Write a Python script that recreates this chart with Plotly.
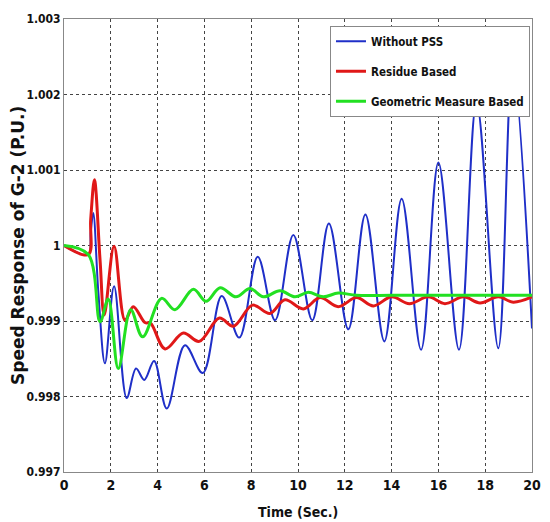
import plotly.graph_objects as go

# ---- data ----
t_without = [0, 1.04, 1.14, 1.25, 1.47, 1.75, 2.14, 2.68, 3.08, 3.43, 3.85, 4.39, 5.17, 5.93,
             6.74, 7.49, 8.28, 9.02, 9.80, 10.61, 11.32, 12.15, 12.88, 13.69, 14.43, 15.26,
             16.00, 16.88, 17.63, 18.56, 19.17, 20.0]
v_without = [1.0, 0.99988, 1.00017, 1.00043, 0.99937, 0.99844, 0.99946, 0.99798, 0.99837,
             0.99822, 0.99847, 0.99784, 0.99868, 0.99831, 0.99933, 0.99878, 0.99985, 0.99901,
             1.00014, 0.99901, 1.00029, 0.99889, 1.00041, 0.99873, 1.00062, 0.99862, 1.00110,
             0.99862, 1.00190, 0.99864, 1.00240, 0.99890]

t_residue = [0, 1.04, 1.14, 1.30, 1.54, 1.72, 2.14, 2.61, 2.96, 3.46, 3.70, 4.32, 5.10, 5.78,
             6.64, 7.24, 8.06, 8.80, 9.44, 10.23, 10.94, 11.72, 12.50, 13.22, 14.00, 14.76,
             15.57, 16.28, 17.07, 17.78, 18.56, 19.20, 20.0]
v_residue = [1.0, 0.99988, 1.00034, 1.00087, 0.99981, 0.99908, 0.99999, 0.99901, 0.99919,
             0.99898, 0.99897, 0.99863, 0.99884, 0.99873, 0.99904, 0.99893, 0.99921, 0.99910,
             0.99928, 0.99916, 0.99931, 0.99919, 0.99931, 0.99920, 0.99932, 0.99923, 0.99932,
             0.99923, 0.99932, 0.99924, 0.99932, 0.99925, 0.99932]

t_geometric = [0, 1.04, 1.54, 1.89, 2.32, 2.85, 3.36, 4.17, 4.74, 5.53, 6.07, 6.67, 7.35, 7.95,
               8.52, 9.23, 9.87, 10.44, 11.08, 11.72, 12.5, 14.0, 16.0, 18.0, 20.0]
v_geometric = [1.0, 0.99988, 0.99899, 0.99929, 0.99837, 0.99915, 0.99879, 0.99930, 0.99915,
               0.99942, 0.99926, 0.99944, 0.99932, 0.99943, 0.99932, 0.99940, 0.99932, 0.99938,
               0.99932, 0.99937, 0.99934, 0.99934, 0.99934, 0.99934, 0.99934]

series_names = ["Without PSS", "Residue Based", "Geometric Measure Based"]

x_ticks = [0, 2, 4, 6, 8, 10, 12, 14, 16, 18, 20]
x_ticktext = ["0", "2", "4", "6", "8", "10", "12", "14", "16", "18", "20"]
y_ticks = [0.997, 0.998, 0.999, 1.0, 1.001, 1.002, 1.003]
y_ticktext = ["0.997", "0.998", "0.999", "1", "1.001", "1.002", "1.003"]

NARROW = "DejaVu Sans Condensed, Liberation Sans Narrow, sans-serif"

fig = go.Figure()
fig.add_trace(go.Scatter(x=t_without, y=v_without, mode="lines", name=series_names[0],
                         legendgroup="a", line=dict(color="#1f2fc8", width=2, shape="spline", smoothing=1.0)))
fig.add_trace(go.Scatter(x=t_residue, y=v_residue, mode="lines", name=series_names[1],
                         legendgroup="b", line=dict(color="#e01818", width=3, shape="spline", smoothing=1.0)))
fig.add_trace(go.Scatter(x=t_geometric, y=v_geometric, mode="lines", name=series_names[2],
                         legendgroup="c", line=dict(color="#22e022", width=3, shape="spline", smoothing=1.0)))

axis_common = dict(showgrid=True, gridcolor="#444444", griddash="dot", gridwidth=1,
                   showline=True, linecolor="#888888", linewidth=1, mirror=True,
                   zeroline=False, ticks="")

fig.update_xaxes(range=[0, 20], tickvals=x_ticks, ticktext=x_ticktext,
                 tickfont=dict(family=NARROW, size=14, color="#111111", weight="bold"),
                 **axis_common)
fig.update_yaxes(range=[0.997, 1.003], tickvals=y_ticks, ticktext=y_ticktext,
                 tickfont=dict(family=NARROW, size=12, color="#111111", weight="bold"),
                 **axis_common)

# page body has an 8px margin: figure is drawn from (8, 8)
fig.update_layout(
    width=542, height=514,
    margin=dict(l=56, r=18, t=11, b=50, autoexpand=False),
    paper_bgcolor="white", plot_bgcolor="white",
    showlegend=True,
    legend=dict(x=0.9957, y=0.985, xanchor="right", yanchor="top",
                bgcolor="white", bordercolor="#888888", borderwidth=1,
                tracegroupgap=11, itemwidth=30,
                font=dict(family=NARROW, size=11.5, color="#111111", weight="bold")),
    annotations=[
        dict(text="Speed Response of G-2 (P.U.)", xref="paper", yref="paper",
             x=-46/468, y=(472 - 246) / 453, xanchor="center", yanchor="middle",
             textangle=-90, showarrow=False,
             font=dict(family="DejaVu Sans", size=17, color="#111111", weight="bold")),
        dict(text="Time (Sec.)", xref="paper", yref="paper",
             x=0.5, y=-40/453, xanchor="center", yanchor="middle", showarrow=False,
             font=dict(family=NARROW, size=14, color="#111111", weight="bold")),
    ],
)

fig.write_html("out.html")
